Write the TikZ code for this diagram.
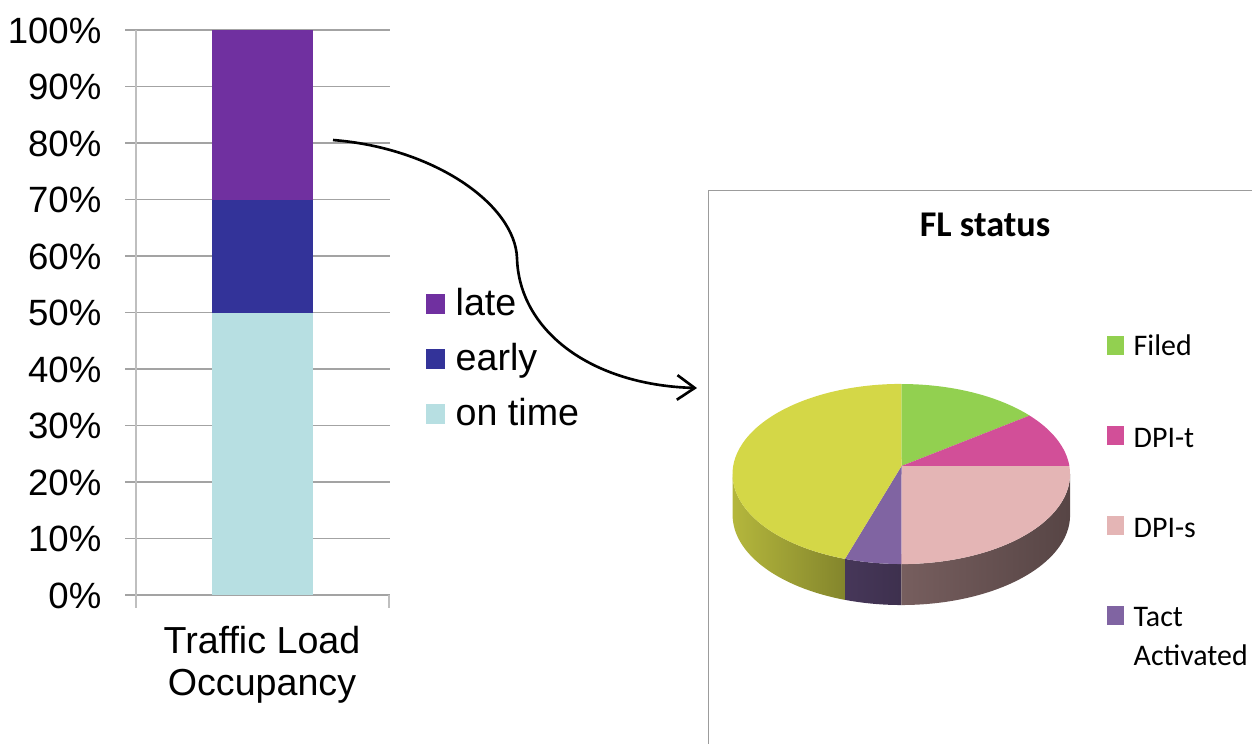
\documentclass[tikz,border=0pt]{standalone}
\usepackage{fontspec}
\setmainfont{Liberation Sans}
\newfontfamily\calib{Carlito}
\usetikzlibrary{arrows.meta}
\definecolor{lateC}{HTML}{7030A0}
\definecolor{earlyC}{HTML}{333399}
\definecolor{ontimeC}{HTML}{B7DFE2}
\definecolor{gridC}{HTML}{A3A3A3}
\definecolor{frameC}{HTML}{9C9C9C}
\definecolor{filedC}{HTML}{92D050}
\definecolor{dpitC}{HTML}{D24F98}
\definecolor{dpisC}{HTML}{E4B5B5}
\definecolor{tactC}{HTML}{8064A2}
\definecolor{restC}{HTML}{D4D747}
\tikzset{
  gridline/.style={draw=gridC, line width=0.35pt},
  axisline/.style={draw=gridC!70, line width=0.35pt},
  ylabel/.style={anchor=base east, inner sep=0pt, font=\fontsize{10.4}{12}\selectfont},
  barlegtext/.style={anchor=base west, inner sep=0pt, font=\fontsize{10.7}{12}\selectfont},
  barlegsq/.style={minimum width=0.19cm, minimum height=0.2cm, inner sep=0pt, draw=none},
  cattext/.style={anchor=base, inner sep=0pt, font=\fontsize{10.7}{12}\selectfont},
  pietitle/.style={anchor=base, inner sep=0pt, font=\calib\bfseries\fontsize{10.3}{12}\selectfont},
  pielegsq/.style={minimum width=0.17cm, minimum height=0.19cm, inner sep=0pt, draw=none},
  pielegtext/.style={anchor=base west, inner sep=0pt, font=\calib\fontsize{8.5}{10}\selectfont},
  link/.style={draw=black, line width=0.75pt, -{Straight Barb[length=5pt,width=7pt,line width=0.75pt]}},
  pie/.style={x radius=1.687cm, y radius=0.9cm}
}
\begin{document}
\begin{tikzpicture}[x=0.01cm, y=0.01cm]
\useasboundingbox (0,0) rectangle (1252,-744);

% ---------- stacked bar chart ----------
\foreach \p in {0,...,10}{
  \draw[gridline] (125,{-595+56.5*\p}) -- (390,{-595+56.5*\p});
  \pgfmathtruncatemacro\v{\p*10}
  \node[ylabel] (ylab\p) at (102,{-595+56.5*\p-13}) {\v\%};
}
\draw[axisline] (136,-30) -- (136,-608);
\draw[axisline] (389,-595) -- (389,-608);

\fill[ontimeC] (212,-595) rectangle (313,-312.5);
\fill[earlyC]  (212,-312.5) rectangle (313,-199.5);
\fill[lateC]   (212,-199.5) rectangle (313,-30);

\node[cattext] (cat1) at (262,-653) {Traffic Load};
\node[cattext] (cat2) at (262,-695) {Occupancy};

% bar legend
\node[barlegsq, fill=lateC]   (sqlate)   at (435.5,-304) {};
\node[barlegsq, fill=earlyC]  (sqearly)  at (435.5,-358.5) {};
\node[barlegsq, fill=ontimeC] (sqontime) at (435.5,-414) {};
\node[barlegtext] (tlate)   at (455,-315) {late};
\node[barlegtext] (tearly)  at (455,-370) {early};
\node[barlegtext] (tontime) at (455,-425) {on time};

% ---------- link between the charts ----------
\coordinate (linkstart) at (333,-140);
\coordinate (linkmid)   at (517,-258);
\coordinate (linkend)   at (697,-388);
\draw[link] (linkstart) .. controls (435,-148) and (515,-205) .. (linkmid)
            .. controls (519,-330) and (590,-385) .. (linkend);

% ---------- pie chart frame ----------
\draw[draw=frameC, line width=0.4pt] (1252,-190.7) -- (708.5,-190.7) -- (708.5,-744);
\node[pietitle] (title) at (985,-236) {FL status};

% ---------- 3D pie: sides (ellipse centre 901.3,-474; depth 41) ----------
\coordinate (pc) at (901.5,-466);
\shade[left color=restC!85!black, right color=restC!62!black]
  ({901.3+168.7*cos(180)},{-474+90*sin(180)}) arc[pie, start angle=180, end angle=250.5]
  -- ++(0,-41) arc[pie, start angle=250.5, end angle=180] -- cycle;
\shade[left color=tactC!55!black, right color=tactC!48!black]
  ({901.3+168.7*cos(250.5)},{-474+90*sin(250.5)}) arc[pie, start angle=250.5, end angle=270]
  -- ++(0,-41) arc[pie, start angle=270, end angle=250.5] -- cycle;
\shade[left color=dpisC!52!black, right color=dpisC!38!black]
  ({901.3+168.7*cos(270)},{-474+90*sin(270)}) arc[pie, start angle=270, end angle=360]
  -- ++(0,-41) arc[pie, start angle=360, end angle=270] -- cycle;

% ---------- 3D pie: top face ----------
\fill[filedC] (pc) -- ({901.3+168.7*cos(90)},{-474+90*sin(90)}) arc[pie, start angle=90, end angle=40.5] -- cycle;
\fill[dpitC]  (pc) -- ({901.3+168.7*cos(40.5)},{-474+90*sin(40.5)}) arc[pie, start angle=40.5, end angle=5] -- cycle;
\fill[dpisC]  (pc) -- ({901.3+168.7*cos(5)},{-474+90*sin(5)}) arc[pie, start angle=5, end angle=-90] -- cycle;
\fill[tactC]  (pc) -- ({901.3+168.7*cos(-90)},{-474+90*sin(-90)}) arc[pie, start angle=-90, end angle=-109.5] -- cycle;
\fill[restC]  (pc) -- ({901.3+168.7*cos(-109.5)},{-474+90*sin(-109.5)}) arc[pie, start angle=-109.5, end angle=-270] -- cycle;

% ---------- pie legend ----------
\node[pielegsq, fill=filedC] (sqfiled) at (1115.5,-345) {};
\node[pielegsq, fill=dpitC]  (sqdpit)  at (1115.5,-435) {};
\node[pielegsq, fill=dpisC]  (sqdpis)  at (1115.5,-525.5) {};
\node[pielegsq, fill=tactC]  (sqtact)  at (1115.5,-615.5) {};
\node[pielegtext] (tfiled) at (1133,-355) {Filed};
\node[pielegtext] (tdpit)  at (1133,-447) {DPI-t};
\node[pielegtext] (tdpis)  at (1133,-537) {DPI-s};
\node[pielegtext] (ttact)  at (1133,-626.5) {Tact};
\node[pielegtext] (tact2)  at (1133,-665) {Activated};
\end{tikzpicture}
\end{document}
